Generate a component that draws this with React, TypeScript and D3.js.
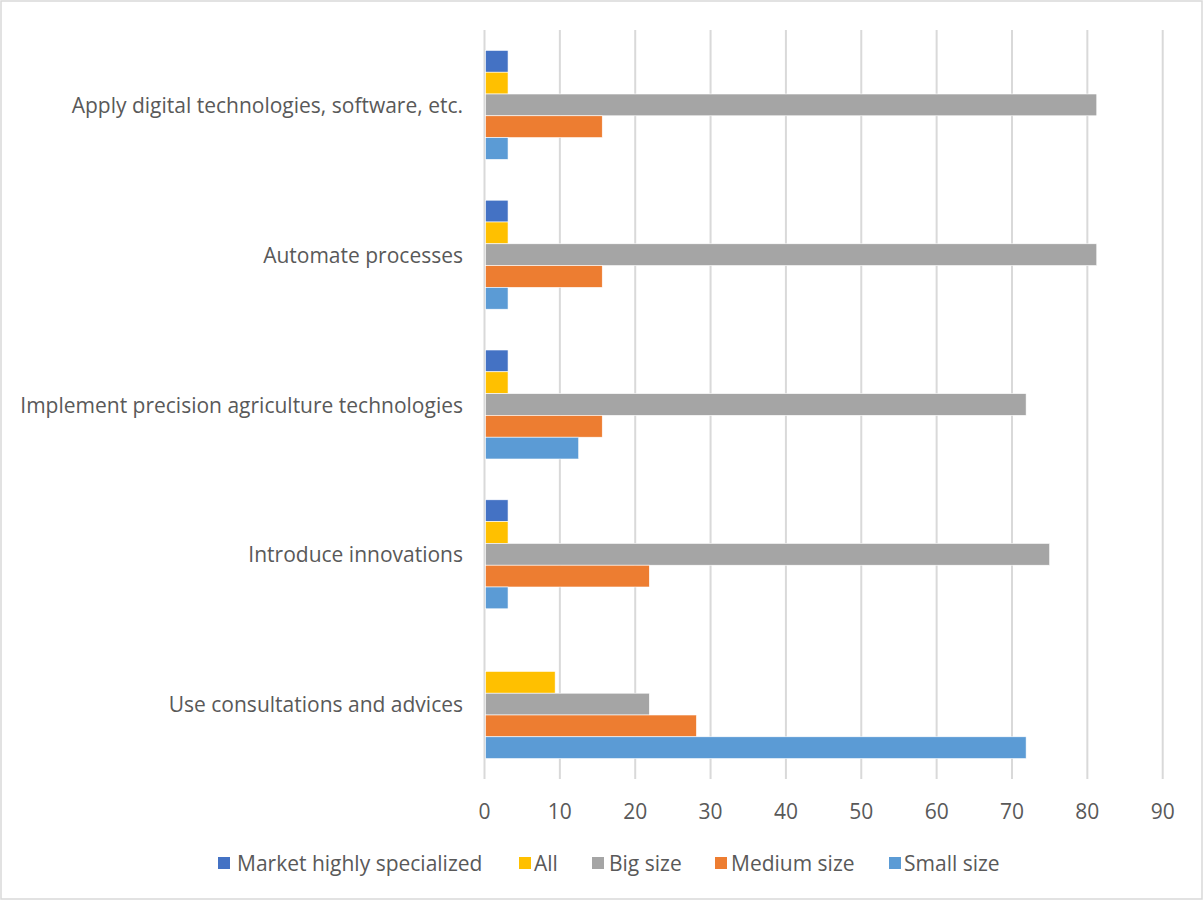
import React from "react";
import * as d3 from "d3";

const categories = [
  "Apply digital technologies, software, etc.",
  "Automate processes",
  "Implement precision agriculture technologies",
  "Introduce innovations",
  "Use consultations and advices",
];
const seriesNames = ["Market highly specialized", "All", "Big size", "Medium size", "Small size"];
const seriesColors = ["#4472C4", "#FFC000", "#A5A5A5", "#ED7D31", "#5B9BD5"];
const marketHighlySpecialized = [3.125, 3.125, 3.125, 3.125, 0];
const allValues = [3.125, 3.125, 3.125, 3.125, 9.375];
const bigSize = [81.25, 81.25, 71.875, 75, 21.875];
const mediumSize = [15.625, 15.625, 15.625, 21.875, 28.125];
const smallSize = [3.125, 3.125, 12.5, 3.125, 71.875];
const xTicks = [0, 10, 20, 30, 40, 50, 60, 70, 80, 90];

const seriesValues = [marketHighlySpecialized, allValues, bigSize, mediumSize, smallSize];

const W = 1204;
const H = 901;
const FONT = "'Open Sans', 'Segoe UI', sans-serif";
const FS = 21;
const TEXT = "#595959";
const GRID = "#D9D9D9";

export default function App() {
  const x = d3.scaleLinear().domain([0, 90]).range([484.5, 1162.7]);
  const y = d3.scaleBand<string>().domain(categories).range([30, 779]).padding(0);
  const inner = d3
    .scaleBand<string>()
    .domain(seriesNames)
    .range([0, y.bandwidth()])
    .paddingInner(0)
    .paddingOuter(0.936);

  const legendItems = [
    { x: 218, tx: 237 },
    { x: 519, tx: 534 },
    { x: 592, tx: 609 },
    { x: 715, tx: 731 },
    { x: 889, tx: 904 },
  ];

  return (
    <svg
      width={W}
      height={H}
      style={{ position: "absolute", left: 0, top: 0, display: "block", background: "#fff" }}
    >
      <rect x={1} y={1} width={W - 3} height={H - 3} fill="#fff" stroke={GRID} strokeWidth={1.5} />
      {xTicks.map((t) => (
        <line key={t} x1={x(t)} x2={x(t)} y1={30} y2={779} stroke={GRID} strokeWidth={2} />
      ))}
      {categories.map((c, ci) => (
        <g key={c}>
          {seriesNames.map((s, si) => {
            const v = seriesValues[si][ci];
            if (!v) return null;
            return (
              <rect
                key={s}
                x={x(0) + 1}
                y={(y(c) as number) + (inner(s) as number)}
                width={x(v) - x(0) - 1}
                height={inner.bandwidth()}
                fill={seriesColors[si]}
                stroke="#fff"
                strokeWidth={0.6}
              />
            );
          })}
          <text
            x={463}
            y={(y(c) as number) + y.bandwidth() / 2}
            textAnchor="end"
            dominantBaseline="central"
            fontFamily={FONT}
            fontSize={FS}
            fill={TEXT}
          >
            {c}
          </text>
        </g>
      ))}
      {xTicks.map((t) => (
        <text
          key={t}
          x={x(t)}
          y={811}
          textAnchor="middle"
          dominantBaseline="central"
          fontFamily={FONT}
          fontSize={FS}
          fill={TEXT}
        >
          {t}
        </text>
      ))}
      {seriesNames.map((s, i) => (
        <g key={s}>
          <rect x={legendItems[i].x} y={857} width={12} height={12} fill={seriesColors[i]} />
          <text
            x={legendItems[i].tx}
            y={863}
            dominantBaseline="central"
            fontFamily={FONT}
            fontSize={FS}
            fill={TEXT}
          >
            {s}
          </text>
        </g>
      ))}
    </svg>
  );
}
